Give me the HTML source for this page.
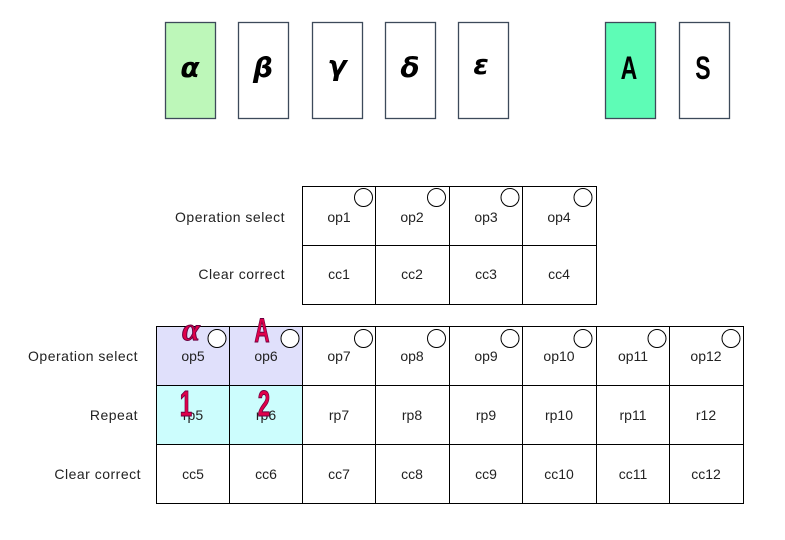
<!DOCTYPE html>
<html><head><meta charset="utf-8"><style>
html,body{margin:0;padding:0;background:#fff;}
svg{display:block;}
text{font-family:"Liberation Sans",sans-serif;}
</style></head><body>
<svg width="785" height="540" viewBox="0 0 785 540" xmlns="http://www.w3.org/2000/svg">
<g stroke="#3d4a5a" stroke-width="1.3">
<rect x="165.5" y="22.5" width="50" height="96" fill="#bdf7b9"/>
<rect x="238.5" y="22.5" width="50" height="96" fill="#fff"/>
<rect x="312.5" y="22.5" width="50" height="96" fill="#fff"/>
<rect x="385.5" y="22.5" width="50" height="96" fill="#fff"/>
<rect x="458.5" y="22.5" width="50" height="96" fill="#fff"/>
<rect x="605.5" y="22.5" width="50" height="96" fill="#5efcb6"/>
<rect x="679.5" y="22.5" width="50" height="96" fill="#fff"/>
</g>
<g font-size="28" font-style="italic" font-weight="bold" text-anchor="middle" fill="#000">
<text x="190" y="77" style="font-family:'DejaVu Sans',sans-serif">α</text>
<text x="263" y="77" style="font-family:'DejaVu Sans',sans-serif">β</text>
<text x="337" y="75" style="font-family:'DejaVu Sans',sans-serif">γ</text>
<text x="410" y="77" style="font-family:'DejaVu Sans',sans-serif">δ</text>
<text x="481" y="74" style="font-family:'DejaVu Sans',sans-serif">ε</text>
</g>
<g font-size="32" font-weight="bold" text-anchor="middle" fill="#000">
<text x="629" y="79" transform="translate(629 0) scale(0.72 1) translate(-629 0)">A</text>
<text x="703" y="79" transform="translate(703 0) scale(0.72 1) translate(-703 0)">S</text>
</g>
<rect x="156" y="326" width="146" height="59" fill="#e0e0fb"/>
<rect x="156" y="385" width="146" height="59" fill="#ccfdfd"/>
<g stroke="#000" stroke-width="1" fill="none">
<rect x="302.5" y="186.5" width="294" height="118"/>
<line x1="302" y1="245.5" x2="596" y2="245.5"/>
<line x1="375.5" y1="186" x2="375.5" y2="304"/>
<line x1="449.5" y1="186" x2="449.5" y2="304"/>
<line x1="522.5" y1="186" x2="522.5" y2="304"/>
<rect x="156.5" y="326.5" width="587" height="177"/>
<line x1="156" y1="385.5" x2="743" y2="385.5"/>
<line x1="156" y1="444.5" x2="743" y2="444.5"/>
<line x1="229.5" y1="326" x2="229.5" y2="503"/>
<line x1="302.5" y1="326" x2="302.5" y2="503"/>
<line x1="375.5" y1="326" x2="375.5" y2="503"/>
<line x1="449.5" y1="326" x2="449.5" y2="503"/>
<line x1="522.5" y1="326" x2="522.5" y2="503"/>
<line x1="596.5" y1="326" x2="596.5" y2="503"/>
<line x1="669.5" y1="326" x2="669.5" y2="503"/>
</g>
<g stroke="#000" stroke-width="1" fill="#fff">
<circle cx="363.5" cy="197.5" r="9"/>
<circle cx="436.5" cy="197.5" r="9"/>
<circle cx="510" cy="197.5" r="9"/>
<circle cx="583" cy="197.5" r="9"/>
<circle cx="217" cy="338.5" r="9"/>
<circle cx="290" cy="338.5" r="9"/>
<circle cx="363.5" cy="338.5" r="9"/>
<circle cx="436.5" cy="338.5" r="9"/>
<circle cx="510" cy="338.5" r="9"/>
<circle cx="583" cy="338.5" r="9"/>
<circle cx="657" cy="338.5" r="9"/>
<circle cx="731" cy="338.5" r="9"/>
</g>
<g font-size="14" fill="#222" text-anchor="end" letter-spacing="0.5">
<text x="285" y="222">Operation select</text>
<text x="285" y="279">Clear correct</text>
<text x="138" y="361">Operation select</text>
<text x="138" y="420">Repeat</text>
<text x="141" y="479">Clear correct</text>
</g>
<g font-size="14" fill="#222" text-anchor="middle">
<text x="339" y="222">op1</text><text x="412" y="222">op2</text><text x="486" y="222">op3</text><text x="559" y="222">op4</text>
<text x="339" y="279">cc1</text><text x="412" y="279">cc2</text><text x="486" y="279">cc3</text><text x="559" y="279">cc4</text>
<text x="193" y="361">op5</text><text x="266" y="361">op6</text><text x="339" y="361">op7</text><text x="412" y="361">op8</text><text x="486" y="361">op9</text><text x="559" y="361">op10</text><text x="633" y="361">op11</text><text x="706" y="361">op12</text>
<text x="193" y="420">rp5</text><text x="266" y="420">rp6</text><text x="339" y="420">rp7</text><text x="412" y="420">rp8</text><text x="486" y="420">rp9</text><text x="559" y="420">rp10</text><text x="633" y="420">rp11</text><text x="706" y="420">r12</text>
<text x="193" y="479">cc5</text><text x="266" y="479">cc6</text><text x="339" y="479">cc7</text><text x="412" y="479">cc8</text><text x="486" y="479">cc9</text><text x="559" y="479">cc10</text><text x="633" y="479">cc11</text><text x="706" y="479">cc12</text>
</g>
<g fill="#e0004a" stroke="#6a0040" stroke-width="1" font-weight="bold" text-anchor="middle">
<text x="191" y="340" font-size="32" font-style="italic" style="font-family:'Liberation Serif',serif">α</text>
<text x="262" y="342" font-size="34" transform="translate(262 0) scale(0.62 1) translate(-262 0)">A</text>
<text x="186" y="416" font-size="36" transform="translate(186 0) scale(0.62 1) translate(-186 0)">1</text>
<text x="264" y="416" font-size="36" transform="translate(264 0) scale(0.62 1) translate(-264 0)">2</text>
</g>
</svg>
</body></html>
